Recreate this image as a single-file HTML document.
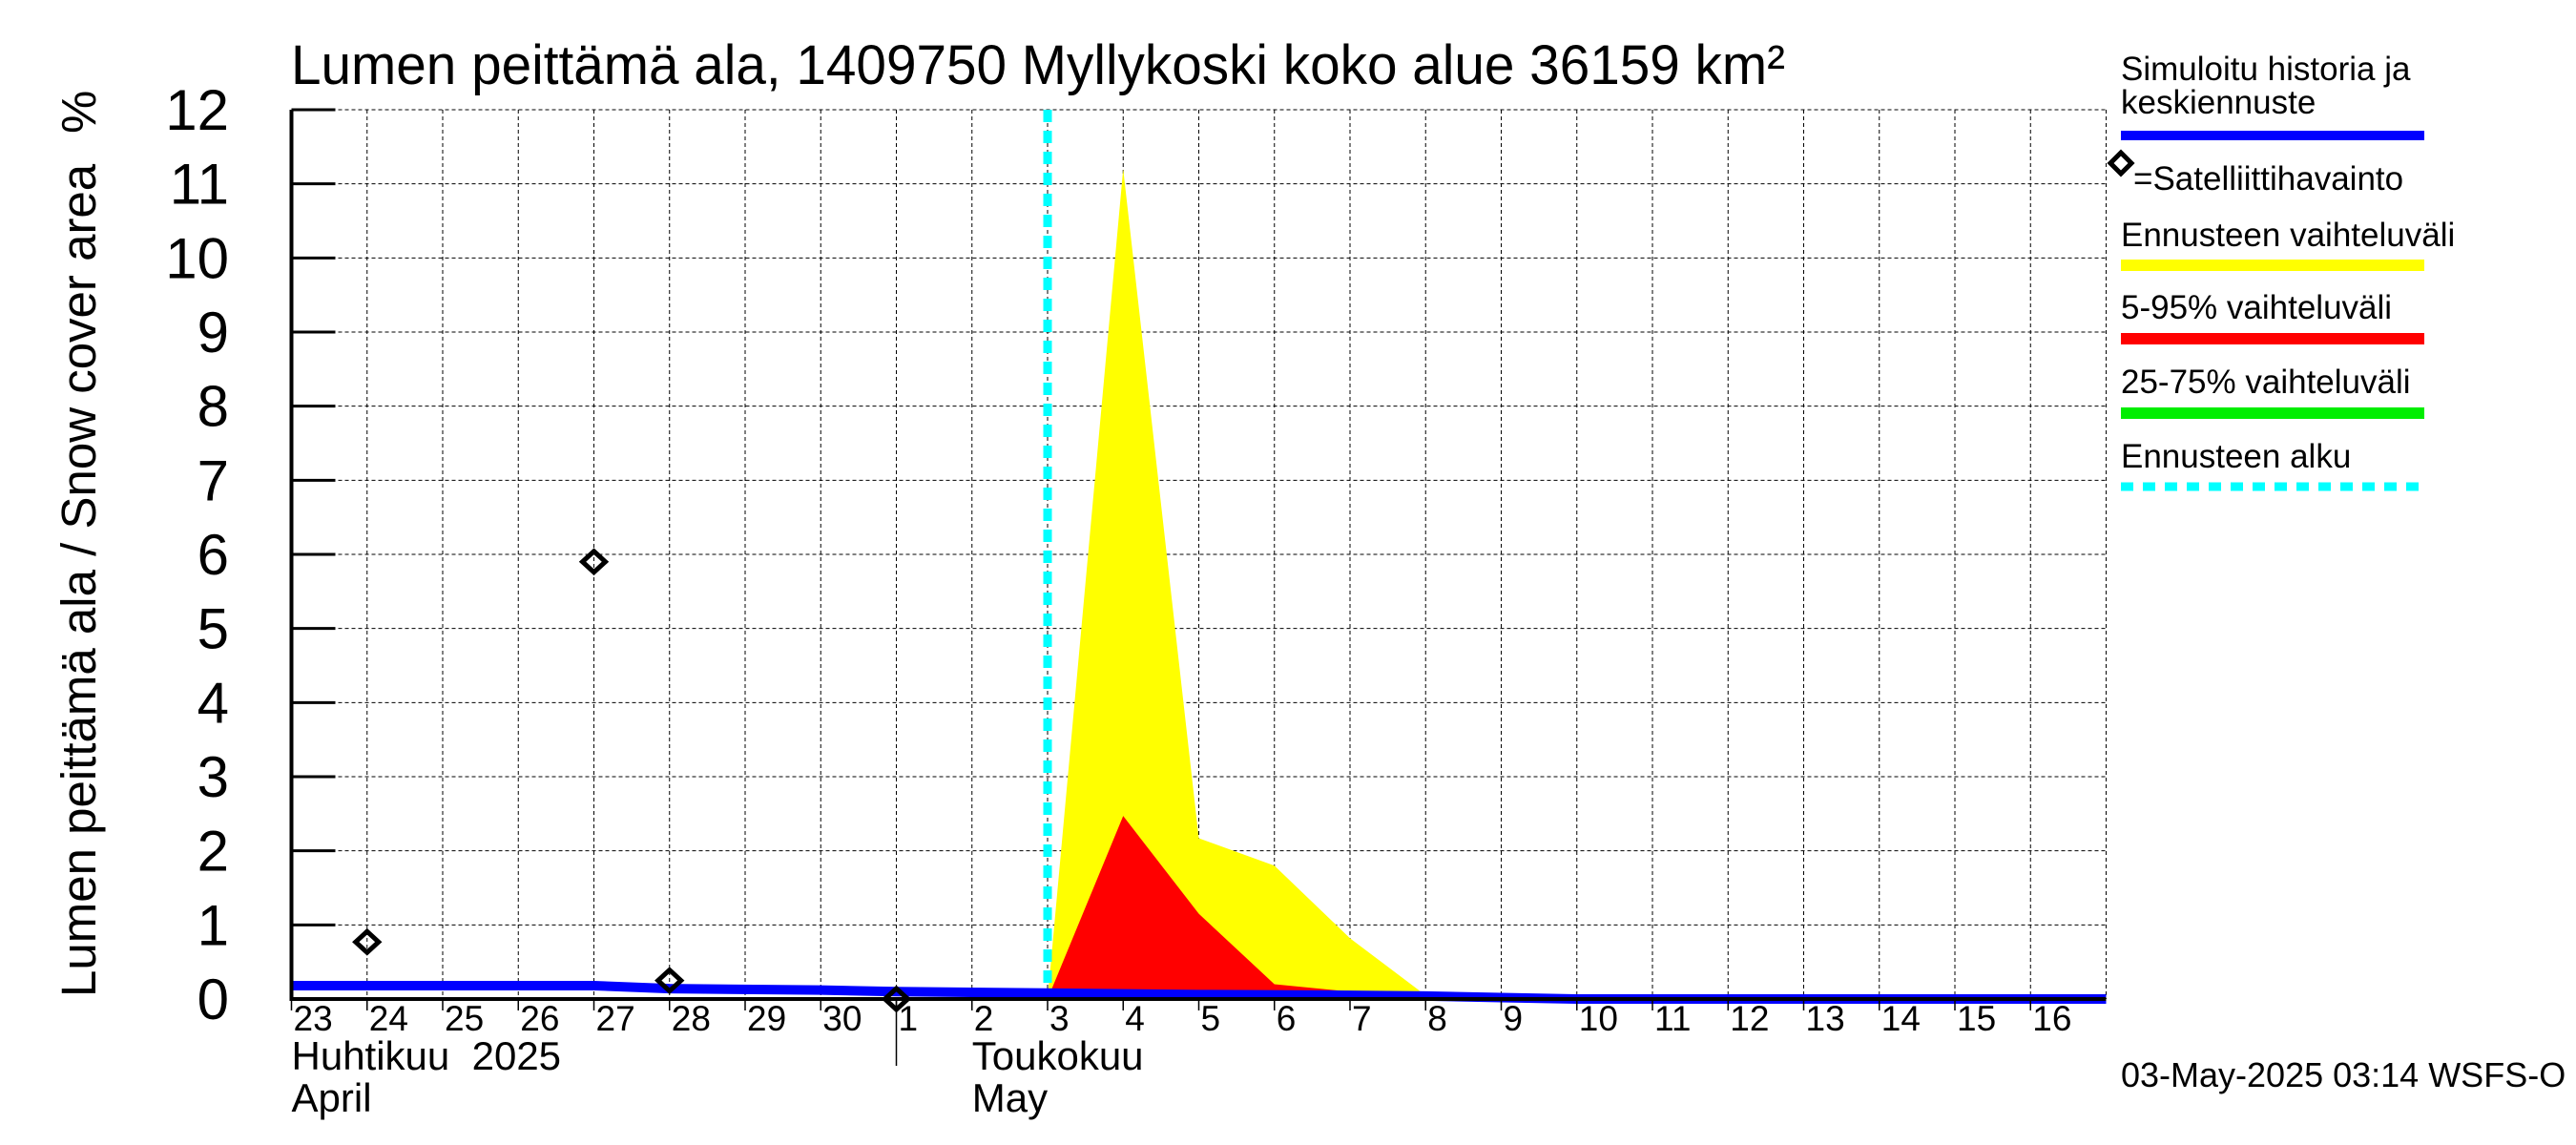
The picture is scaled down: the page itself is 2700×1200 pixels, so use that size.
<!DOCTYPE html>
<html><head><meta charset="utf-8"><style>
html,body{margin:0;padding:0;background:#fff;}
svg{display:block;font-family:"Liberation Sans",sans-serif;}
</style></head><body>
<svg id="chart" width="2700" height="1200" viewBox="0 0 2700 1200" xmlns="http://www.w3.org/2000/svg">
<rect width="2700" height="1200" fill="#fff"/>
<text x="305" y="88" font-size="58" textLength="1566" lengthAdjust="spacingAndGlyphs">Lumen peittämä ala, 1409750 Myllykoski koko alue 36159 km²</text>
<text transform="translate(100,1045) rotate(-90)" font-size="51">Lumen peittämä ala / Snow cover area</text>
<text transform="translate(100,140) rotate(-90)" font-size="51">%</text>
<g id="grid"></g>
<g id="series"></g>
<g id="axes"></g>
<g>
<text x="2223" y="84" font-size="35">Simuloitu historia ja</text>
<text x="2223" y="119" font-size="35">keskiennuste</text>
<rect x="2223" y="137" width="318" height="10" fill="#0000ff"/>
<path d="M2223 160 L2234 171 L2223 182 L2212 171 Z" fill="none" stroke="#000" stroke-width="5"/>
<text x="2236" y="199" font-size="35">=Satelliittihavainto</text>
<text x="2223" y="258" font-size="35">Ennusteen vaihteluväli</text>
<rect x="2223" y="272" width="318" height="12" fill="#ffff00"/>
<text x="2223" y="334" font-size="35">5-95% vaihteluväli</text>
<rect x="2223" y="349" width="318" height="12" fill="#ff0000"/>
<text x="2223" y="412" font-size="35">25-75% vaihteluväli</text>
<rect x="2223" y="427" width="318" height="12" fill="#00ee00"/>
<text x="2223" y="490" font-size="35">Ennusteen alku</text>
<line x1="2223" y1="510" x2="2541" y2="510" stroke="#00ffff" stroke-width="9" stroke-dasharray="13,10"/>
</g>
<text x="2223" y="1139" font-size="36">03-May-2025 03:14 WSFS-O</text>
</svg>
<script>
// data (day index: 0 = 23 April 00:00)
const dayLabels = ["23","24","25","26","27","28","29","30","1","2","3","4","5","6","7","8","9","10","11","12","13","14","15","16"];
const yTicks = [0,1,2,3,4,5,6,7,8,9,10,11,12];
const obsDays = [1, 4, 5, 8];
const obsValues = [0.77, 5.9, 0.25, 0.0];
const fcDays = [10, 11, 12, 13, 14, 15, 16, 17];
const yellowValues = [0, 11.2, 2.17, 1.8, 0.82, 0.05, 0, 0];
const redValues = [0, 2.47, 1.15, 0.2, 0.1, 0.04, 0, 0];
const simDays = [0, 4, 5, 7, 8, 10, 12, 14, 15, 16, 17, 24];
const simValues = [0.18, 0.18, 0.14, 0.12, 0.1, 0.08, 0.06, 0.05, 0.04, 0.02, 0, 0];
const forecastStartDay = 10;

const X0 = 305.5, X1 = 2207.5, Y0 = 1047, Y1 = 115;
const NDAYS = 24, YMAX = 12;
const sx = d => X0 + (X1 - X0) * d / NDAYS;
const sy = v => Y0 - (Y0 - Y1) * v / YMAX;
const NS = "http://www.w3.org/2000/svg";
function mk(tag, attrs, parent) {
  const e = document.createElementNS(NS, tag);
  for (const k in attrs) e.setAttribute(k, attrs[k]);
  parent.appendChild(e);
  return e;
}
const grid = document.getElementById('grid');
const series = document.getElementById('series');
const axes = document.getElementById('axes');

for (let d = 1; d <= NDAYS; d++) {
  const l = mk('line', {x1: sx(d), y1: Y1, x2: sx(d), y2: Y0, stroke: '#000', 'stroke-width': 1, 'stroke-dasharray': '4,3'}, grid);
  
  
}
yTicks.forEach(v => {
  if (v === 0) return;
  const l = mk('line', {x1: X0, y1: sy(v), x2: X1, y2: sy(v), stroke: '#000', 'stroke-width': 1, 'stroke-dasharray': '4,3'}, grid);
  
  
});

let pts = fcDays.map((d, i) => sx(d) + ',' + sy(yellowValues[i])).join(' ');
pts += ' ' + sx(fcDays[fcDays.length - 1]) + ',' + sy(0) + ' ' + sx(fcDays[0]) + ',' + sy(0);
const yb = mk('polygon', {points: pts, fill: '#ffff00'}, series);


pts = fcDays.map((d, i) => sx(d) + ',' + sy(redValues[i])).join(' ');
pts += ' ' + sx(fcDays[fcDays.length - 1]) + ',' + sy(0) + ' ' + sx(fcDays[0]) + ',' + sy(0);
const rb = mk('polygon', {points: pts, fill: '#ff0000'}, series);



const fs = mk('line', {x1: sx(forecastStartDay), y1: Y1, x2: sx(forecastStartDay), y2: Y0, stroke: '#00ffff', 'stroke-width': 9, 'stroke-dasharray': '13,9'}, series);



const ax = mk('path', {d: `M${X0} ${Y1} L${X0} ${Y0} L${X1} ${Y0}`, fill: 'none', stroke: '#000', 'stroke-width': 4}, axes);



const sl = mk('polyline', {points: simDays.map((d, i) => sx(d) + ',' + sy(simValues[i])).join(' '), fill: 'none', stroke: '#0000ff', 'stroke-width': 10}, series);



obsDays.forEach((d, i) => {
  const x = sx(d), y = sy(obsValues[i]);
  const p = mk('path', {d: `M${x} ${y-11} L${x+12} ${y} L${x} ${y+11} L${x-12} ${y} Z`, fill: 'none', stroke: '#000', 'stroke-width': 5}, series);
  
  
});

yTicks.forEach(v => {
  const t = mk('line', {x1: X0, y1: sy(v), x2: X0 + 46, y2: sy(v), stroke: '#000', 'stroke-width': 3}, axes);
  
  
  const tx = mk('text', {x: 240, y: sy(v) + 21, 'font-size': 60, 'text-anchor': 'end'}, axes);
  tx.textContent = v;
  
  
});

dayLabels.forEach((lab, d) => {
  const t = mk('line', {x1: sx(d), y1: Y0, x2: sx(d), y2: Y0 + 12, stroke: '#000', 'stroke-width': 1.5}, axes);
  
  
  const tx = mk('text', {x: sx(d) + 2, y: 1080, 'font-size': 37}, axes);
  tx.textContent = lab;
  
  
});
const ms = mk('line', {x1: sx(8), y1: Y0, x2: sx(8), y2: 1117, stroke: '#000', 'stroke-width': 1.5}, axes);


[["Huhtikuu  2025", X0, 1121], ["April", X0, 1165], ["Toukokuu", sx(9), 1121], ["May", sx(9), 1165]].forEach(m => {
  const tx = mk('text', {x: m[1], y: m[2], 'font-size': 42}, axes);
  tx.style.whiteSpace = 'pre';
  tx.textContent = m[0];
  
  
});
</script>
</body></html>
